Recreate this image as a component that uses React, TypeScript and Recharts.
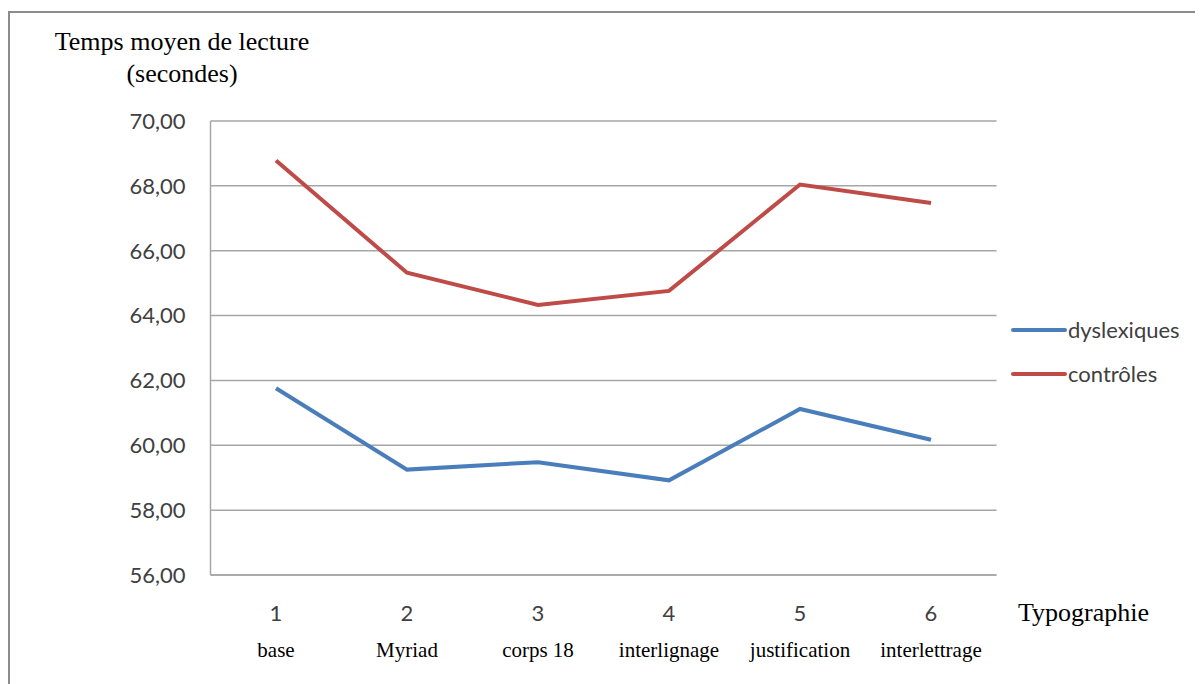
import { LineChart, Line, XAxis, YAxis, CartesianGrid } from "recharts";

const categories = ["1", "2", "3", "4", "5", "6"];
const categoryNames = ["base", "Myriad", "corps 18", "interlignage", "justification", "interlettrage"];
const dyslexiques = [61.76, 59.25, 59.48, 58.92, 61.12, 60.17];
const controles = [68.78, 65.32, 64.33, 64.76, 68.04, 67.47];
const yTicks = [56, 58, 60, 62, 64, 66, 68, 70];

const series = [
  { key: "dyslexiques", name: "dyslexiques", color: "#4a7ebb" },
  { key: "controles", name: "contrôles", color: "#be4b48" },
];

const data = categories.map((c, i) => ({
  cat: c,
  label: categoryNames[i],
  dyslexiques: dyslexiques[i],
  controles: controles[i],
}));

const SANS = "Lato, 'Open Sans', sans-serif";
const SERIF = "'Liberation Serif', 'Times New Roman', serif";

const formatTick = (v: number) => v.toFixed(2).replace(".", ",");

const XTick = (props: any) => {
  const { x, y, payload } = props;
  return (
    <g>
      <text x={x} y={y + 46} textAnchor="middle" fontFamily={SANS} fontSize={22} fill="#404040">
        {payload.value}
      </text>
      <text x={x} y={y + 82} textAnchor="middle" fontFamily={SERIF} fontSize={21} fill="#000">
        {categoryNames[payload.index]}
      </text>
    </g>
  );
};

export default function App() {
  return (
    <div style={{ position: "relative", width: 1195, height: 676, background: "#fff" }}>
      <div
        style={{
          position: "absolute",
          left: 0,
          top: 3,
          right: 0,
          bottom: 0,
          borderTop: "2px solid #8c8c8c",
          borderLeft: "2px solid #8c8c8c",
        }}
      />
      <LineChart
        width={1195}
        height={676}
        data={data}
        margin={{ top: 113, right: 206.5, bottom: 9, left: 0 }}
        style={{ position: "absolute", left: 0, top: 0 }}
      >
        <CartesianGrid horizontal vertical={false} stroke="#a6a6a6" strokeWidth={1.5} />
        <XAxis
          dataKey="cat"
          height={100}
          padding={{ left: 65.5, right: 65.5 }}
          axisLine={{ stroke: "#a6a6a6", strokeWidth: 1.5 }}
          tickLine={false}
          tickSize={0}
          tickMargin={0}
          interval={0}
          tick={<XTick />}
        />
        <YAxis
          width={202.5}
          domain={[56, 70]}
          ticks={yTicks}
          tickFormatter={formatTick}
          axisLine={{ stroke: "#a6a6a6", strokeWidth: 1.5 }}
          tickLine={false}
          tickSize={0}
          tickMargin={25}
          tick={{ fontFamily: SANS, fontSize: 22, fill: "#404040" }}
        />
        {series.map((s) => (
          <Line
            key={s.key}
            type="linear"
            dataKey={s.key}
            name={s.name}
            stroke={s.color}
            strokeWidth={4}
            dot={false}
            activeDot={false}
            isAnimationActive={false}
          />
        ))}
      </LineChart>
      <svg
        width={1195}
        height={676}
        style={{ position: "absolute", left: 0, top: 0, pointerEvents: "none" }}
      >
        <text x={174} y={42} textAnchor="middle" fontFamily={SERIF} fontSize={26} fill="#000">
          Temps moyen de lecture
        </text>
        <text x={174} y={74} textAnchor="middle" fontFamily={SERIF} fontSize={26} fill="#000">
          (secondes)
        </text>
        <text x={1010} y={613} fontFamily={SERIF} fontSize={26} fill="#000">
          Typographie
        </text>
        {series.map((s, i) => (
          <g key={s.key}>
            <line
              x1={1005}
              x2={1057}
              y1={322 + i * 44}
              y2={322 + i * 44}
              stroke={s.color}
              strokeWidth={4}
              strokeLinecap="round"
            />
            <text
              x={1060}
              y={322 + i * 44 + 8}
              fontFamily={SANS}
              fontSize={22}
              fill="#404040"
            >
              {s.name}
            </text>
          </g>
        ))}
      </svg>
    </div>
  );
}
